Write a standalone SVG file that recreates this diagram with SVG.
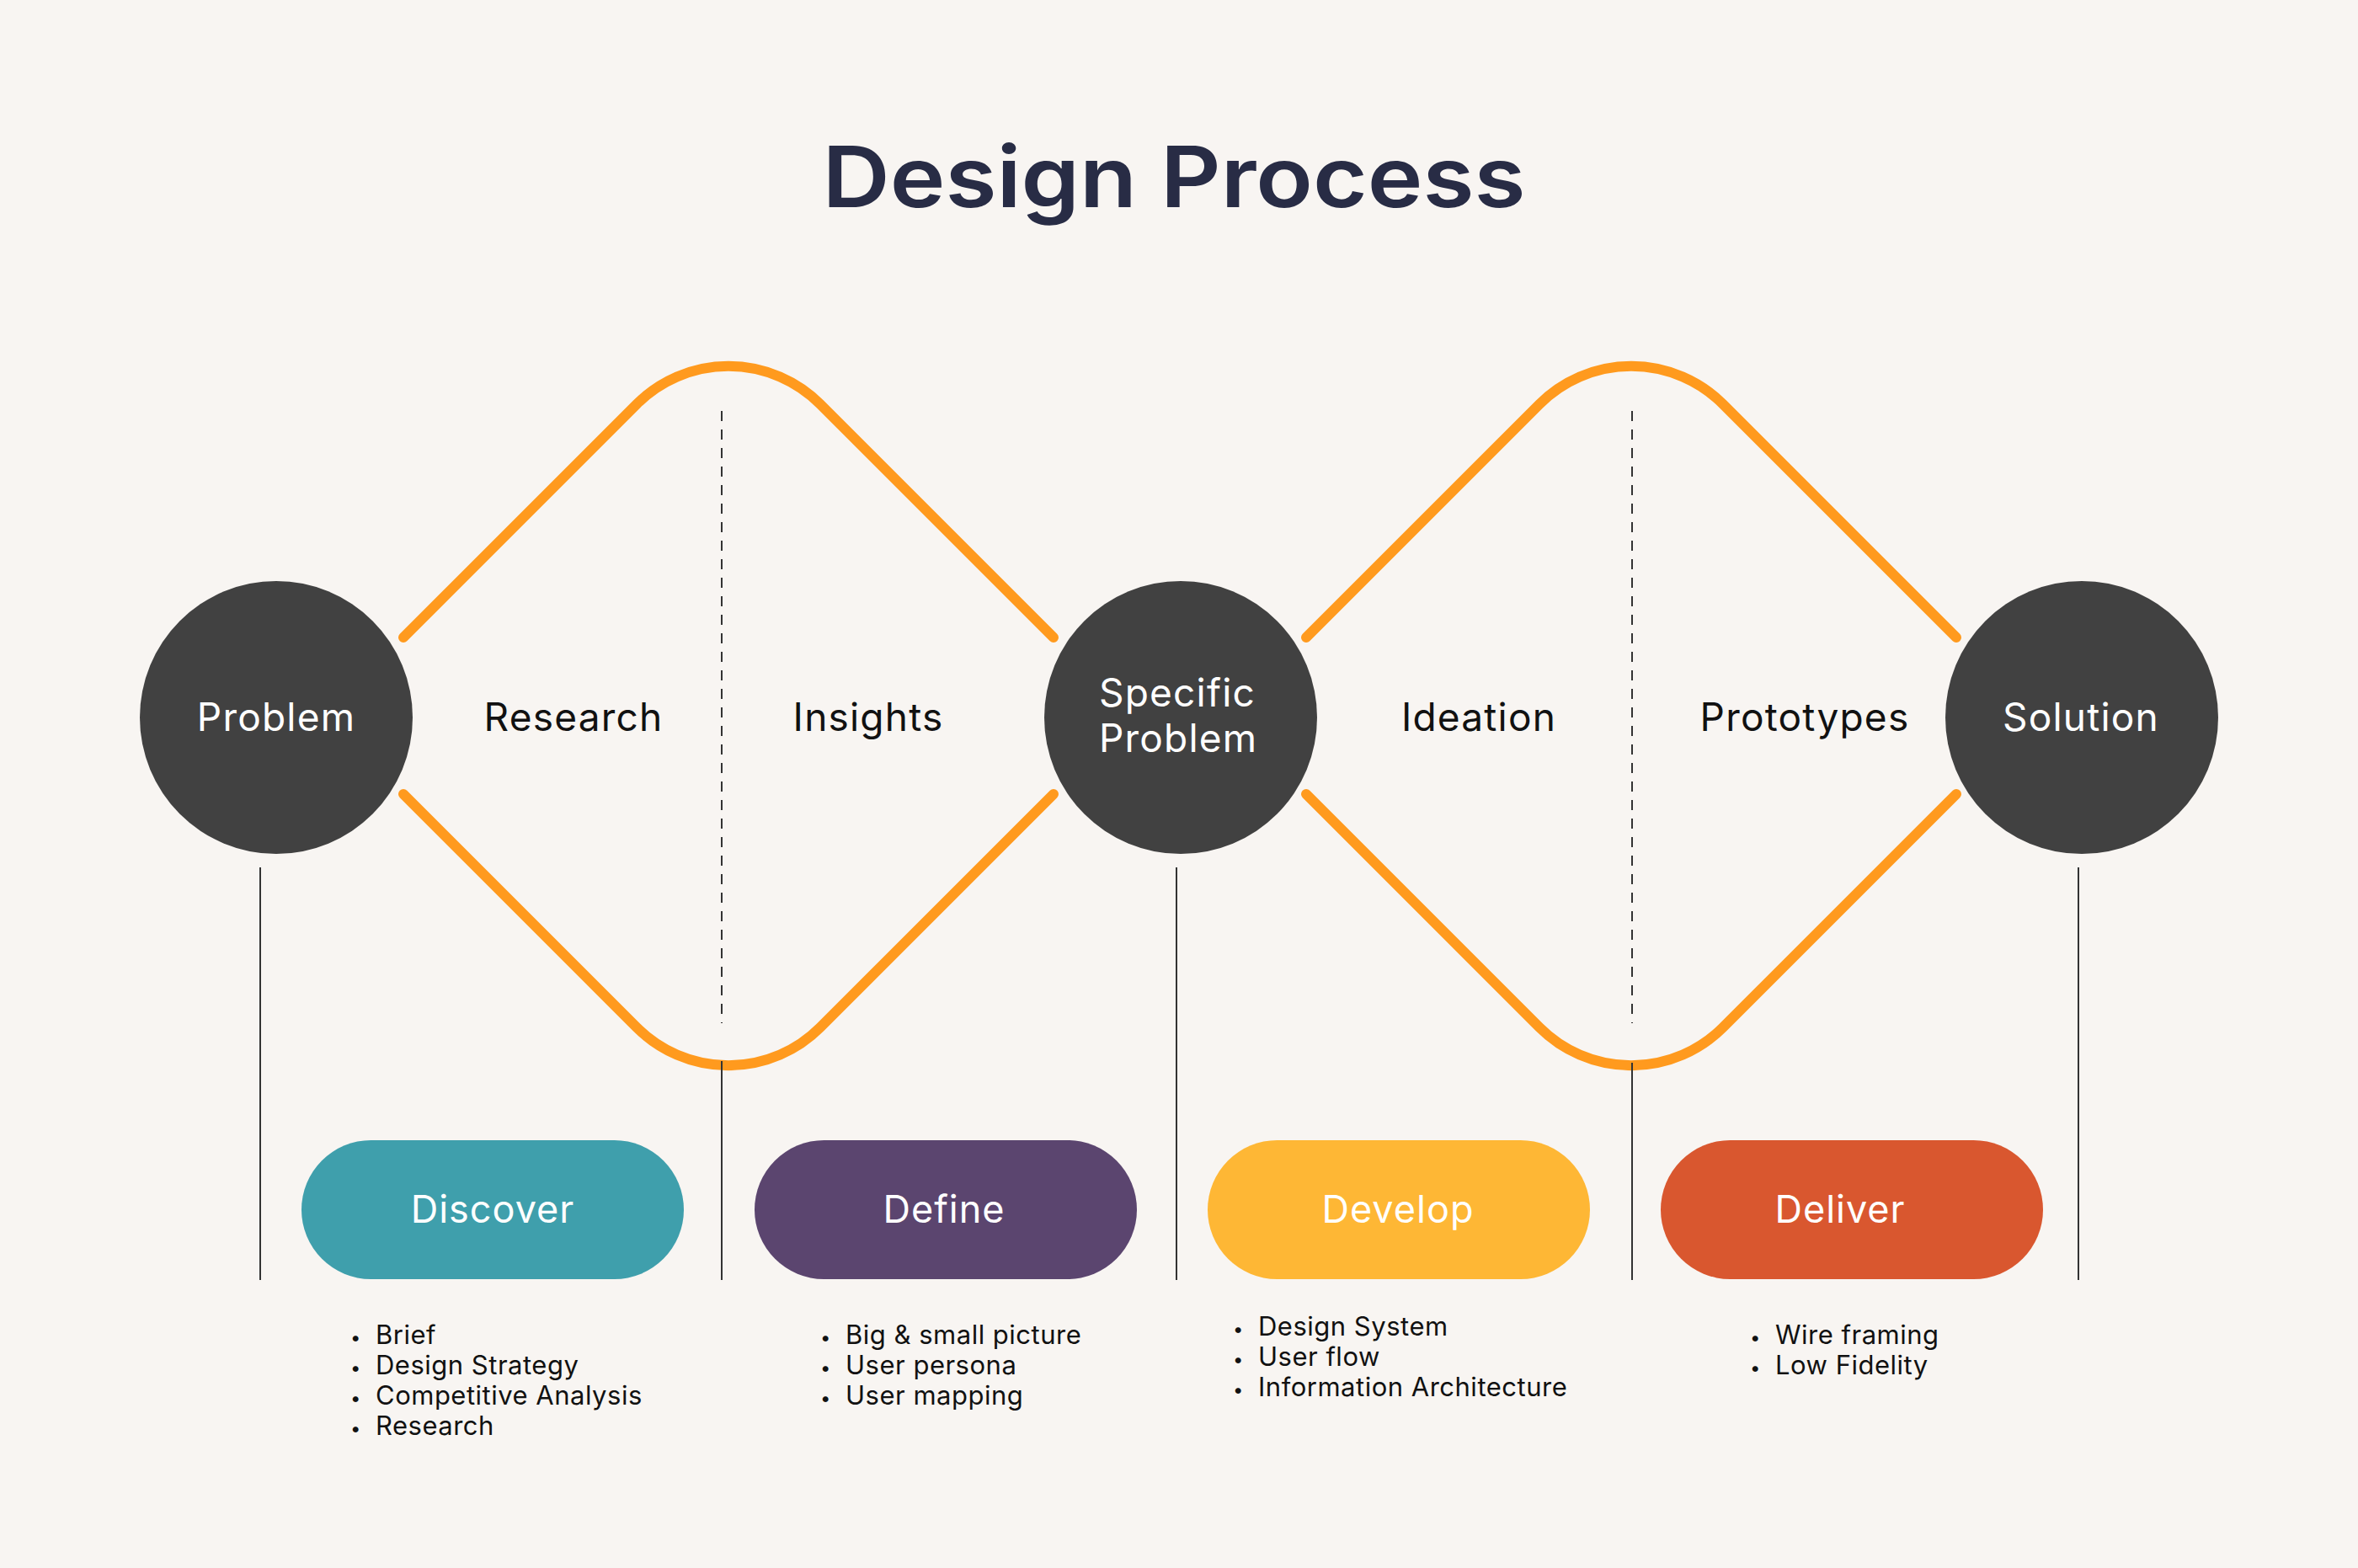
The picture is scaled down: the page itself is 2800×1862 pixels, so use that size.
<svg xmlns="http://www.w3.org/2000/svg" width="2800" height="1862" viewBox="0 0 2800 1862">
  <style>
    .title { font-family: Inter, "Liberation Sans", sans-serif; font-weight: 600; font-size: 100px; fill: #282C45; }
    .circle { fill: #414141; }
    .clabel { font-family: Inter, "Noto Sans", sans-serif; font-size: 46px; letter-spacing: 1.2px; fill: #FFFFFF; }
    .phase { font-family: Inter, "Noto Sans", sans-serif; font-size: 46px; letter-spacing: 1.2px; fill: #111111; }
    .pilltext { font-family: Inter, "Noto Sans", sans-serif; font-size: 45px; letter-spacing: 1px; fill: #FFFFFF; text-anchor: middle; }
    .item { font-family: Inter, "Noto Sans", sans-serif; font-size: 31px; letter-spacing: 0.5px; fill: #111111; }
    .bullet { font-family: Inter, "Noto Sans", sans-serif; font-size: 22px; fill: #111111; }
    .flow { fill: none; stroke: #FF9A1E; stroke-width: 12; stroke-linecap: round; stroke-linejoin: round; }
    .dash { stroke: #333333; stroke-width: 2; stroke-dasharray: 12 10; }
    .solid { stroke: #333333; stroke-width: 2; }
  </style>
  <rect width="2800" height="1862" fill="#F8F5F2"/>

  <text class="title" x="1394" y="246" text-anchor="middle" textLength="835" lengthAdjust="spacingAndGlyphs">Design Process</text>

  <g id="connectors">
    <path class="flow" d="M479,757 L756,480 A154,154 0 0 1 974,480 L1251,757"/>
    <path class="flow" d="M479,943 L756,1220 A154,154 0 0 0 974,1220 L1251,943"/>
    <path class="flow" d="M1551,757 L1828,480 A154,154 0 0 1 2046,480 L2323,757"/>
    <path class="flow" d="M1551,943 L1828,1220 A154,154 0 0 0 2046,1220 L2323,943"/>
    <line class="dash" x1="857" y1="488" x2="857" y2="1215"/>
    <line class="dash" x1="1938" y1="488" x2="1938" y2="1215"/>
    <line class="solid" x1="309" y1="1030" x2="309" y2="1520"/>
    <line class="solid" x1="857" y1="1260" x2="857" y2="1520"/>
    <line class="solid" x1="1397" y1="1030" x2="1397" y2="1520"/>
    <line class="solid" x1="1938" y1="1262" x2="1938" y2="1520"/>
    <line class="solid" x1="2468" y1="1030" x2="2468" y2="1520"/>
  </g>

  <g id="node-problem">
    <circle class="circle" cx="328" cy="852" r="162"/>
    <text class="clabel" x="328" y="868" text-anchor="middle">Problem</text>
  </g>
  <g id="node-specific-problem">
    <circle class="circle" cx="1402" cy="852" r="162"/>
    <text class="clabel" x="1305" y="839">Specific</text>
    <text class="clabel" x="1305" y="893">Problem</text>
  </g>
  <g id="node-solution">
    <circle class="circle" cx="2472" cy="852" r="162"/>
    <text class="clabel" x="2471" y="868" text-anchor="middle">Solution</text>
  </g>

  <g id="phase-labels">
    <text class="phase" x="681" y="868" text-anchor="middle">Research</text>
    <text class="phase" x="1031" y="868" text-anchor="middle">Insights</text>
    <text class="phase" x="1756" y="868" text-anchor="middle">Ideation</text>
    <text class="phase" x="2143" y="868" text-anchor="middle">Prototypes</text>
  </g>

  <g id="node-discover">
    <rect x="358" y="1354" width="454" height="165" rx="82.5" fill="#3F9FAC"/>
    <text class="pilltext" x="585" y="1452">Discover</text>
  </g>
  <g id="node-define">
    <rect x="896" y="1354" width="454" height="165" rx="82.5" fill="#5B456F"/>
    <text class="pilltext" x="1121" y="1452">Define</text>
  </g>
  <g id="node-develop">
    <rect x="1434" y="1354" width="454" height="165" rx="82.5" fill="#FEB735"/>
    <text class="pilltext" x="1660" y="1452">Develop</text>
  </g>
  <g id="node-deliver">
    <rect x="1972" y="1354" width="454" height="165" rx="82.5" fill="#D9572F"/>
    <text class="pilltext" x="2185" y="1452">Deliver</text>
  </g>

  <g id="list-discover">
    <text class="bullet" x="416" y="1596">•</text><text class="item" x="446" y="1596">Brief</text>
    <text class="bullet" x="416" y="1632">•</text><text class="item" x="446" y="1632">Design Strategy</text>
    <text class="bullet" x="416" y="1668">•</text><text class="item" x="446" y="1668">Competitive Analysis</text>
    <text class="bullet" x="416" y="1704">•</text><text class="item" x="446" y="1704">Research</text>
  </g>
  <g id="list-define">
    <text class="bullet" x="974" y="1596">•</text><text class="item" x="1004" y="1596">Big &amp; small picture</text>
    <text class="bullet" x="974" y="1632">•</text><text class="item" x="1004" y="1632">User persona</text>
    <text class="bullet" x="974" y="1668">•</text><text class="item" x="1004" y="1668">User mapping</text>
  </g>
  <g id="list-develop">
    <text class="bullet" x="1464" y="1586">•</text><text class="item" x="1494" y="1586">Design System</text>
    <text class="bullet" x="1464" y="1622">•</text><text class="item" x="1494" y="1622">User flow</text>
    <text class="bullet" x="1464" y="1658">•</text><text class="item" x="1494" y="1658">Information Architecture</text>
  </g>
  <g id="list-deliver">
    <text class="bullet" x="2078" y="1596">•</text><text class="item" x="2108" y="1596">Wire framing</text>
    <text class="bullet" x="2078" y="1632">•</text><text class="item" x="2108" y="1632">Low Fidelity</text>
  </g>
</svg>
